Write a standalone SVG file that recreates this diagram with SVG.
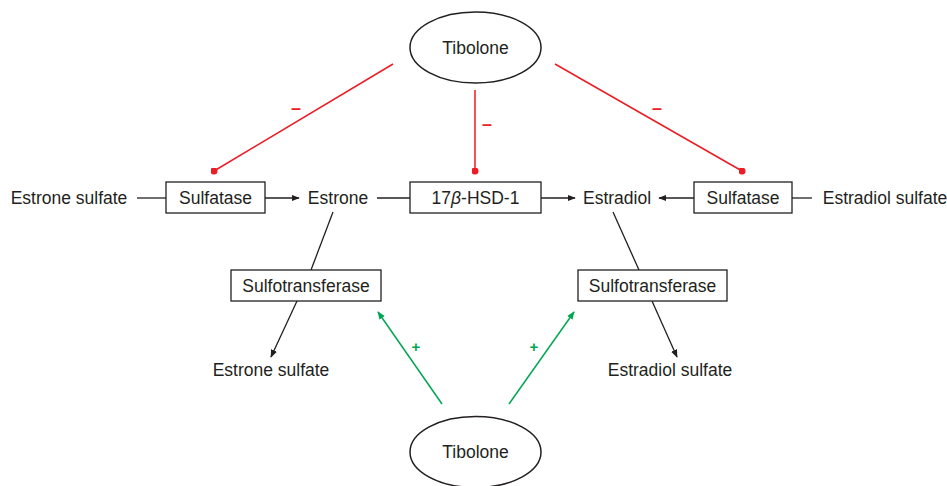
<svg xmlns="http://www.w3.org/2000/svg" width="947" height="486" viewBox="0 0 947 486">
<defs>
<style>
text{font-family:"Liberation Sans",Arial,sans-serif;font-size:17.5px;fill:#231f20;text-anchor:middle;dominant-baseline:central}
.box{fill:#fff;stroke:#231f20;stroke-width:1.3}
.ell{fill:#fff;stroke:#231f20;stroke-width:1.5}
.k{stroke:#231f20;stroke-width:1.3;fill:none}
.r{stroke:#ed1c24;stroke-width:1.5;fill:none}
.g{stroke:#00a651;stroke-width:1.5;fill:none}
.rl{fill:#ed1c24;font-weight:bold;font-size:18px}
.gl{fill:#00a651;font-weight:bold;font-size:15px}
</style>
<marker id="ak" viewBox="0 0 10 10" refX="9" refY="5" markerWidth="8" markerHeight="8" markerUnits="userSpaceOnUse" orient="auto"><path d="M0,1 L10,5 L0,9 Z" fill="#231f20"/></marker>
<marker id="ag" viewBox="0 0 10 10" refX="9" refY="5" markerWidth="8" markerHeight="8" markerUnits="userSpaceOnUse" orient="auto"><path d="M0,1 L10,5 L0,9 Z" fill="#00a651"/></marker>
<marker id="dot" viewBox="0 0 10 10" refX="5" refY="5" markerWidth="7" markerHeight="7" markerUnits="userSpaceOnUse"><circle cx="5" cy="5" r="5" fill="#ed1c24"/></marker>
</defs>
<rect width="947" height="486" fill="#fff"/>
<g id="connectors">
<line class="r" x1="393" y1="64" x2="214" y2="171" marker-end="url(#dot)"/>
<line class="r" x1="475" y1="90" x2="475" y2="171" marker-end="url(#dot)"/>
<line class="r" x1="555" y1="64" x2="742" y2="171" marker-end="url(#dot)"/>
<line class="k" x1="137" y1="198" x2="166" y2="198"/>
<line class="k" x1="265" y1="198" x2="299" y2="198" marker-end="url(#ak)"/>
<line class="k" x1="377" y1="198" x2="410" y2="198"/>
<line class="k" x1="541" y1="198" x2="575" y2="198" marker-end="url(#ak)"/>
<line class="k" x1="694" y1="198" x2="659" y2="198" marker-end="url(#ak)"/>
<line class="k" x1="792" y1="198" x2="812" y2="198"/>
<line class="k" x1="333" y1="212" x2="311" y2="270"/>
<line class="k" x1="297" y1="301" x2="271" y2="357" marker-end="url(#ak)"/>
<line class="k" x1="613" y1="212" x2="639" y2="270"/>
<line class="k" x1="652" y1="301" x2="677" y2="357" marker-end="url(#ak)"/>
<line class="g" x1="442" y1="404" x2="378" y2="312" marker-end="url(#ag)"/>
<line class="g" x1="509" y1="404" x2="574" y2="312" marker-end="url(#ag)"/>
<text class="rl" x="296" y="108">–</text>
<text class="rl" x="487" y="124">–</text>
<text class="rl" x="657" y="108">–</text>
<text class="gl" x="416" y="346">+</text>
<text class="gl" x="534" y="346">+</text>
</g>
<g id="tibolone-top"><ellipse class="ell" cx="475.5" cy="47.5" rx="65.5" ry="35.5"/><text x="475.5" y="48">Tibolone</text></g>
<g id="estrone-sulfate-l"><text x="69" y="198">Estrone sulfate</text></g>
<g id="sulfatase-l"><rect class="box" x="166" y="182" width="99" height="31"/><text x="215.5" y="198">Sulfatase</text></g>
<g id="estrone"><text x="338" y="198">Estrone</text></g>
<g id="hsd"><rect class="box" x="410" y="182" width="131" height="31"/><text x="475.5" y="198">17<tspan font-style="italic">β</tspan>-HSD-1</text></g>
<g id="estradiol"><text x="617" y="198">Estradiol</text></g>
<g id="sulfatase-r"><rect class="box" x="694" y="182" width="98" height="31"/><text x="743" y="198">Sulfatase</text></g>
<g id="estradiol-sulfate-r"><text x="885" y="198">Estradiol sulfate</text></g>
<g id="sulfo-l"><rect class="box" x="231" y="270" width="150" height="31"/><text x="306" y="286">Sulfotransferase</text></g>
<g id="sulfo-r"><rect class="box" x="578" y="270" width="149" height="31"/><text x="652.5" y="286">Sulfotransferase</text></g>
<g id="estrone-sulfate-b"><text x="271" y="370">Estrone sulfate</text></g>
<g id="estradiol-sulfate-b"><text x="670" y="370">Estradiol sulfate</text></g>
<g id="tibolone-bottom"><ellipse class="ell" cx="475.5" cy="452" rx="65.5" ry="35.5"/><text x="475.5" y="452">Tibolone</text></g>
</svg>
